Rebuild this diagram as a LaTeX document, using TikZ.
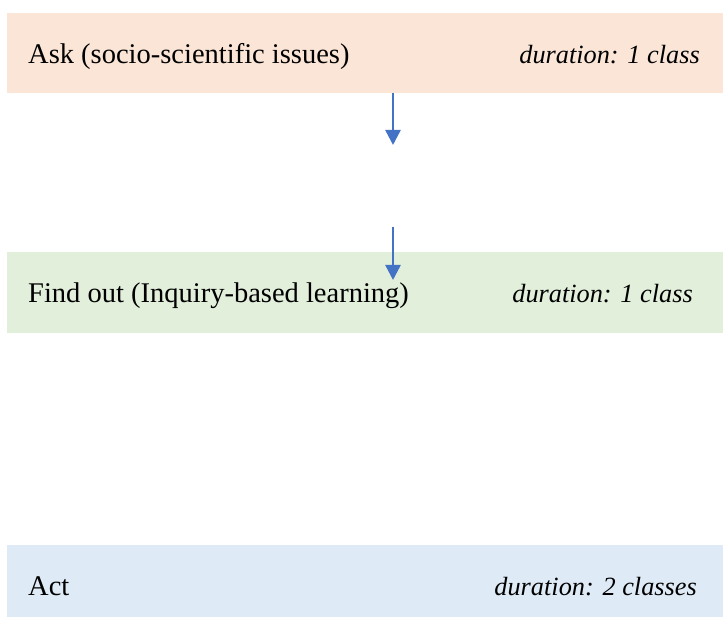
\documentclass[tikz,border=0pt]{standalone}
\usepackage{fontspec}
\setmainfont{Liberation Serif}
\usetikzlibrary{arrows.meta}
\definecolor{peach}{HTML}{FBE5D6}
\definecolor{lgreen}{HTML}{E2EFDA}
\definecolor{lblue}{HTML}{DEEBF7}
\definecolor{arrowblue}{HTML}{4472C4}
\begin{document}
\begin{tikzpicture}[x=1pt,y=1pt,
  stagebox/.style={inner sep=0pt, outer sep=0pt, anchor=south west},
  lbl/.style={font=\fontsize{28.5}{33}\selectfont, inner sep=0pt, anchor=base west},
  dur/.style={font=\fontsize{26.3}{31}\selectfont\itshape, inner sep=0pt, anchor=base east},
  flow/.style={draw=arrowblue, line width=2.5pt, -{Triangle[width=15pt,length=15pt]}}]
\useasboundingbox (0,0) rectangle (723,617);
% boxes
\node[stagebox, fill=peach, minimum width=716pt, minimum height=80pt] (ask) at (7,524) {};
\node[stagebox, fill=lgreen, minimum width=716pt, minimum height=81pt] (find) at (7,284) {};
\node[stagebox, fill=lblue, minimum width=716pt, minimum height=72pt] (act) at (7,0) {};
% labels
\node[lbl] (asklbl) at (28,553) {Ask (socio-scientific issues)};
\node[dur] (askdur) at (700,553) {duration: 1 class};
\node[lbl] (findlbl) at (28,314) {Find out (Inquiry-based learning)};
\node[dur] (finddur) at (693,314) {duration: 1 class};
\node[lbl] (actlbl) at (28,21) {Act};
\node[dur] (actdur) at (697,21) {duration: 2 classes};
% arrows
\coordinate (a1end) at (393,472);
\coordinate (a2start) at (393,390);
\coordinate (a2end) at (393,337);
\draw[flow] (ask.south -| a1end) -- (a1end);
\draw[flow] (a2start) -- (a2end);
\end{tikzpicture}
\end{document}
